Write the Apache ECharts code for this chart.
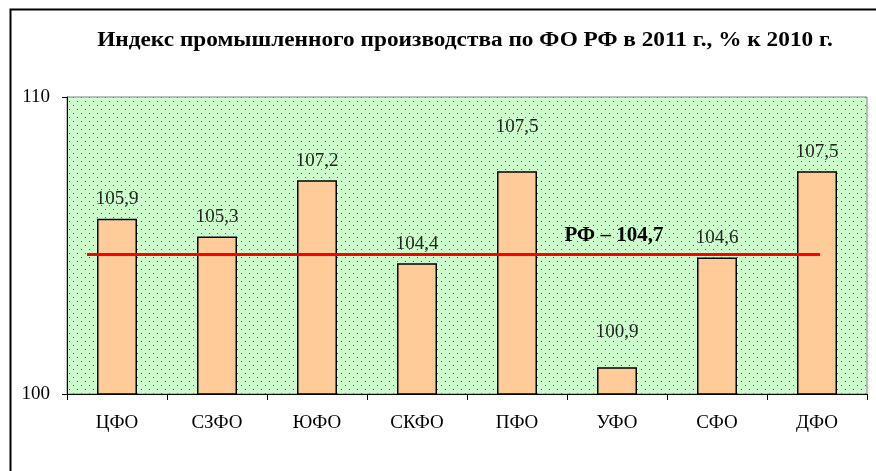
<!DOCTYPE html>
<html>
<head>
<meta charset="utf-8">
<script src="https://cdn.jsdelivr.net/npm/echarts@6/dist/echarts.min.js"></script>
<style>
html,body{margin:0;padding:0;background:#fff;}
#c{width:876px;height:471px;}
</style>
</head>
<body>
<div id="c"></div>
<script>
const titleText = 'Индекс промышленного производства по ФО РФ в 2011 г., % к 2010 г.';
const categories = ['ЦФО','СЗФО','ЮФО','СКФО','ПФО','УФО','СФО','ДФО'];
const values = [105.9, 105.3, 107.2, 104.4, 107.5, 100.9, 104.6, 107.5];
const rfValue = [104.7];
const yTicks = [100, 110];

const fmt = v => v.toFixed(1).replace('.', ',');
const serif = '"Liberation Serif", "Times New Roman", serif';

// dotted background pattern
const pc = document.createElement('canvas');
pc.width = 8; pc.height = 8;
const pctx = pc.getContext('2d');
pctx.fillStyle = '#CCFFCC';
pctx.fillRect(0, 0, 8, 8);
pctx.fillStyle = '#3f5f3f';
pctx.fillRect(1, 1, 1, 1);
pctx.fillRect(5, 5, 1, 1);

const labelDist = [10, 10, 10, 10, 35, 26, 10, 10];

const chart = echarts.init(document.getElementById('c'), null, {renderer: 'canvas'});
chart.setOption({
  animation: false,
  backgroundColor: '#fff',
  graphic: [{
    type: 'rect', left: 8, top: 7, z: -10,
    shape: {width: 900, height: 500},
    style: {fill: 'none', stroke: '#000', lineWidth: 2}
  }, {
    type: 'text', x: 465, y: 41, scaleX: 1.165, z: 10,
    style: {
      text: titleText, fontFamily: serif, fontWeight: 'bold', fontSize: 20,
      fill: '#000', align: 'center', verticalAlign: 'middle'
    }
  }],
  grid: {
    left: 67, right: 9, top: 97, bottom: 77,
    show: true,
    backgroundColor: {image: pc, repeat: 'repeat'},
    borderColor: '#808080', borderWidth: 1
  },
  xAxis: [{
    type: 'category', data: categories,
    axisLine: {onZero: false, lineStyle: {color: '#000', width: 1}},
    axisTick: {show: true, length: 6, lineStyle: {color: '#000'}},
    axisLabel: {fontFamily: serif, fontSize: 19, color: '#000', margin: 20}
  }, {
    type: 'value', min: -0.5, max: 7.5, show: false
  }],
  yAxis: {
    type: 'value', min: yTicks[0], max: yTicks[yTicks.length - 1], interval: 10,
    axisLine: {show: true, onZero: false, lineStyle: {color: '#000', width: 1}},
    axisTick: {show: true, length: 5, lineStyle: {color: '#000'}},
    splitLine: {show: false},
    axisLabel: {fontFamily: serif, fontSize: 19, color: '#000', margin: 17}
  },
  series: [{
    type: 'bar',
    barWidth: 40,
    data: values.map((v, i) => ({value: v, label: {distance: labelDist[i]}})),
    itemStyle: {color: '#FFCC99', borderColor: '#000', borderWidth: 1.5},
    label: {
      show: true, position: 'top',
      fontFamily: serif, fontSize: 19, color: '#222',
      formatter: p => fmt(p.value)
    },
    z: 2
  }, {
    type: 'line',
    xAxisIndex: 1,
    data: [[-0.3, rfValue[0]], [7.03, rfValue[0]]],
    symbol: 'none',
    lineStyle: {color: '#FF0000', width: 3},
    z: 5,
    markPoint: {
      symbol: 'circle', symbolSize: 0,
      data: [{coord: [4.97, rfValue[0]], value: rfValue[0]}],
      label: {
        show: true, position: 'top', distance: 8,
        fontFamily: serif, fontSize: 21, fontWeight: 'bold', color: '#000',
        formatter: p => 'РФ – ' + fmt(p.value)
      }
    }
  }]
});
</script>
</body>
</html>
